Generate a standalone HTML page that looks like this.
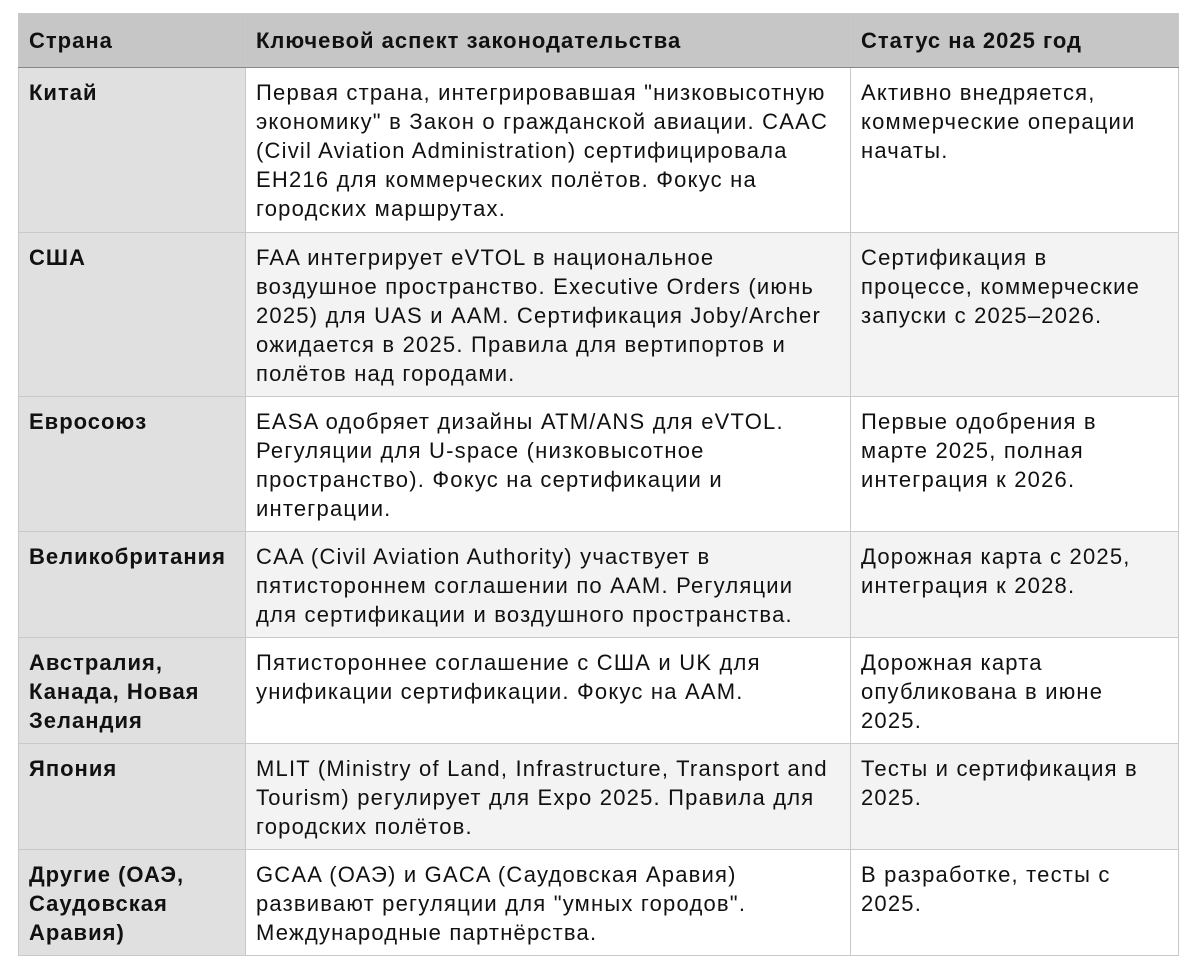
<!DOCTYPE html>
<html><head><meta charset="utf-8"><style>
html,body{margin:0;padding:0;background:#fff;width:1198px;height:976px;overflow:hidden}
table{position:absolute;left:18px;top:13px;border-collapse:collapse;table-layout:fixed;font-family:"Liberation Sans",Arial,sans-serif;font-size:22px;letter-spacing:1.2px;line-height:29px;color:#111}
td,th{border:1px solid #c9c9c9;vertical-align:top;padding:10px 10px 0 10px;text-align:left;white-space:nowrap;overflow:hidden}
th{background:#c6c6c6;font-weight:bold;height:53px;box-sizing:border-box;vertical-align:middle;padding:0 10px;border-bottom:1px solid #888;letter-spacing:1px}
td.c1{background:#e0e0e0;font-weight:bold;letter-spacing:1px}
tr.alt td{background:#f3f3f3}
tr.alt td.c1{background:#e0e0e0}
</style></head><body>
<table>
<colgroup><col style="width:227px"><col style="width:605px"><col style="width:328px"></colgroup>
<tr style="height:54px"><th>Страна</th><th>Ключевой аспект законодательства</th><th>Статус на 2025 год</th></tr>
<tr style="height:165px"><td class="c1">Китай</td><td>Первая страна, интегрировавшая "низковысотную<br>экономику" в Закон о гражданской авиации. CAAC<br>(Civil Aviation Administration) сертифицировала<br>EH216 для коммерческих полётов. Фокус на<br>городских маршрутах.</td><td>Активно внедряется,<br>коммерческие операции<br>начаты.</td></tr>
<tr class="alt" style="height:164px"><td class="c1">США</td><td>FAA интегрирует eVTOL в национальное<br>воздушное пространство. Executive Orders (июнь<br>2025) для UAS и AAM. Сертификация Joby/Archer<br>ожидается в 2025. Правила для вертипортов и<br>полётов над городами.</td><td>Сертификация в<br>процессе, коммерческие<br>запуски с 2025–2026.</td></tr>
<tr style="height:135px"><td class="c1">Евросоюз</td><td>EASA одобряет дизайны ATM/ANS для eVTOL.<br>Регуляции для U-space (низковысотное<br>пространство). Фокус на сертификации и<br>интеграции.</td><td>Первые одобрения в<br>марте 2025, полная<br>интеграция к 2026.</td></tr>
<tr class="alt" style="height:106px"><td class="c1">Великобритания</td><td>CAA (Civil Aviation Authority) участвует в<br>пятистороннем соглашении по AAM. Регуляции<br>для сертификации и воздушного пространства.</td><td>Дорожная карта с 2025,<br>интеграция к 2028.</td></tr>
<tr style="height:106px"><td class="c1">Австралия,<br>Канада, Новая<br>Зеландия</td><td>Пятистороннее соглашение с США и UK для<br>унификации сертификации. Фокус на AAM.</td><td>Дорожная карта<br>опубликована в июне<br>2025.</td></tr>
<tr class="alt" style="height:106px"><td class="c1">Япония</td><td>MLIT (Ministry of Land, Infrastructure, Transport and<br>Tourism) регулирует для Expo 2025. Правила для<br>городских полётов.</td><td>Тесты и сертификация в<br>2025.</td></tr>
<tr style="height:106px"><td class="c1">Другие (ОАЭ,<br>Саудовская<br>Аравия)</td><td>GCAA (ОАЭ) и GACA (Саудовская Аравия)<br>развивают регуляции для "умных городов".<br>Международные партнёрства.</td><td>В разработке, тесты с<br>2025.</td></tr>
</table>
</body></html>
